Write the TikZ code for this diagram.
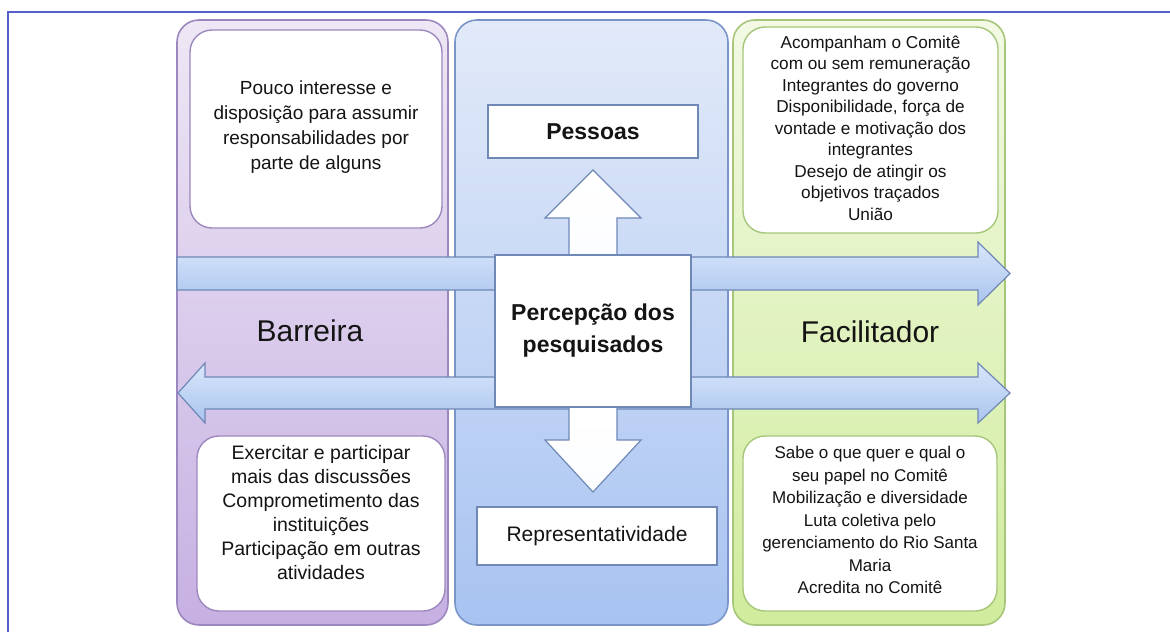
\documentclass[tikz,border=0pt]{standalone}
\usepackage{fontspec}
\setmainfont{Liberation Sans}
\usetikzlibrary{calc}
\definecolor{frameblue}{HTML}{5560CC}
\definecolor{purTop}{HTML}{EEE7F5}
\definecolor{purBot}{HTML}{C6B0E2}
\definecolor{purLine}{HTML}{9C88BE}
\definecolor{bluTop}{HTML}{E2EAF9}
\definecolor{bluBot}{HTML}{A8C3F1}
\definecolor{bluLine}{HTML}{7A95C8}
\definecolor{grnTop}{HTML}{F3F9E4}
\definecolor{grnBot}{HTML}{D0EC9C}
\definecolor{grnLine}{HTML}{A6C67A}
\definecolor{arrTop}{HTML}{D8E6FA}
\definecolor{arrBot}{HTML}{AAC4EF}
\definecolor{arrLine}{HTML}{6F88B6}
\definecolor{txt}{HTML}{141414}
\begin{document}
\begin{tikzpicture}[x=1pt,y=-1pt,
  column/.style={rounded corners=22pt, line width=1.6pt, minimum height=605pt, inner sep=0pt},
  whitebox/.style={fill=white, rounded corners=22pt, line width=1.4pt, inner sep=0pt, align=center, text=txt},
  sqbox/.style={fill=white, line width=1.2pt, draw=arrLine, inner sep=0pt, align=center, text=txt},
  collabel/.style={font=\fontsize{30}{32}\selectfont, text=txt},
  harrow/.style={top color=arrTop, bottom color=arrBot, draw=arrLine, line width=1.2pt, line join=miter},
  varrow/.style={top color=white, bottom color=white!92!arrTop, draw=arrLine, line width=1.2pt},
  boxtxt/.style={align=center, text=txt, inner sep=0pt}
]
\useasboundingbox (0,0) rectangle (1170,632);
\fill[white] (0,0) rectangle (1170,632);
\draw[frameblue, line width=2pt] (8,632) -- (8,12) -- (1170,12);

% columns
\node[column, top color=purTop, bottom color=purBot, draw=purLine, minimum width=271pt] (colL) at (312.5,322.5) {};
\node[column, top color=bluTop, bottom color=bluBot, draw=bluLine, minimum width=273pt] (colM) at (591.5,322.5) {};
\node[column, top color=grnTop, bottom color=grnBot, draw=grnLine, minimum width=272pt] (colR) at (869,322.5) {};

% column labels
\node[collabel] (barreira) at (310,331) {Barreira};
\node[collabel] (facil) at (870,332) {Facilitador};

\path (593,331) coordinate (cenc);

% horizontal arrows
\draw[harrow] (177,257) -- (978,257) -- (978,242) -- (1010,273.5) -- (978,305) -- (978,290) -- (177,290) -- cycle;
\draw[harrow] (205,377) -- (978,377) -- (978,363) -- (1010,393) -- (978,423) -- (978,409) -- (205,409) -- (205,423) -- (178,393) -- (205,363) -- cycle;

% vertical arrows
\draw[varrow] (569,256) -- (569,218) -- (545,218) -- (593,170) -- (641,218) -- (617,218) -- (617,256) -- cycle;
\draw[varrow] (569,406) -- (569,440) -- (545,440) -- (593,492) -- (641,440) -- (617,440) -- (617,406) -- cycle;

% central box
\node[sqbox, minimum width=196pt, minimum height=152pt, font=\fontsize{23}{32}\selectfont\bfseries] (cen) at (cenc) {Percepção dos\\pesquisados};

% middle boxes
\node[sqbox, minimum width=210pt, minimum height=53pt, font=\fontsize{23}{26}\selectfont\bfseries] (pessoas) at (593,131.5) {Pessoas};
\node[sqbox, minimum width=240pt, minimum height=58pt, font=\fontsize{21}{24}\selectfont] (repr) at (597,536) {Representatividade};

% white boxes
\node[whitebox, draw=purLine, minimum width=252pt, minimum height=198pt] (tl) at (316,129) {};
\node[boxtxt, font=\fontsize{19}{25}\selectfont] (tltxt) at (316,127.5) {Pouco interesse e\\disposição para assumir\\responsabilidades por\\parte de alguns};

\node[whitebox, draw=grnLine, minimum width=255pt, minimum height=206pt] (tr) at (870.5,130) {};
\node[boxtxt, font=\fontsize{17.2}{21.5}\selectfont] (trtxt) at (870.5,128) {Acompanham o Comitê\\com ou sem remuneração\\Integrantes do governo\\Disponibilidade, força de\\vontade e motivação dos\\integrantes\\Desejo de atingir os\\objetivos traçados\\União};

\node[whitebox, draw=purLine, minimum width=248pt, minimum height=175pt] (bl) at (321,523.5) {};
\node[boxtxt, font=\fontsize{19.5}{24}\selectfont] (bltxt) at (321,512.5) {Exercitar e participar\\mais das discussões\\Comprometimento das\\instituições\\Participação em outras\\atividades};

\node[whitebox, draw=grnLine, minimum width=254pt, minimum height=175pt] (br) at (870,523.5) {};
\node[boxtxt, font=\fontsize{17}{22.5}\selectfont] (brtxt) at (870,520) {Sabe o que quer e qual o\\seu papel no Comitê\\Mobilização e diversidade\\Luta coletiva pelo\\gerenciamento do Rio Santa\\Maria\\Acredita no Comitê};
\end{tikzpicture}
\end{document}
